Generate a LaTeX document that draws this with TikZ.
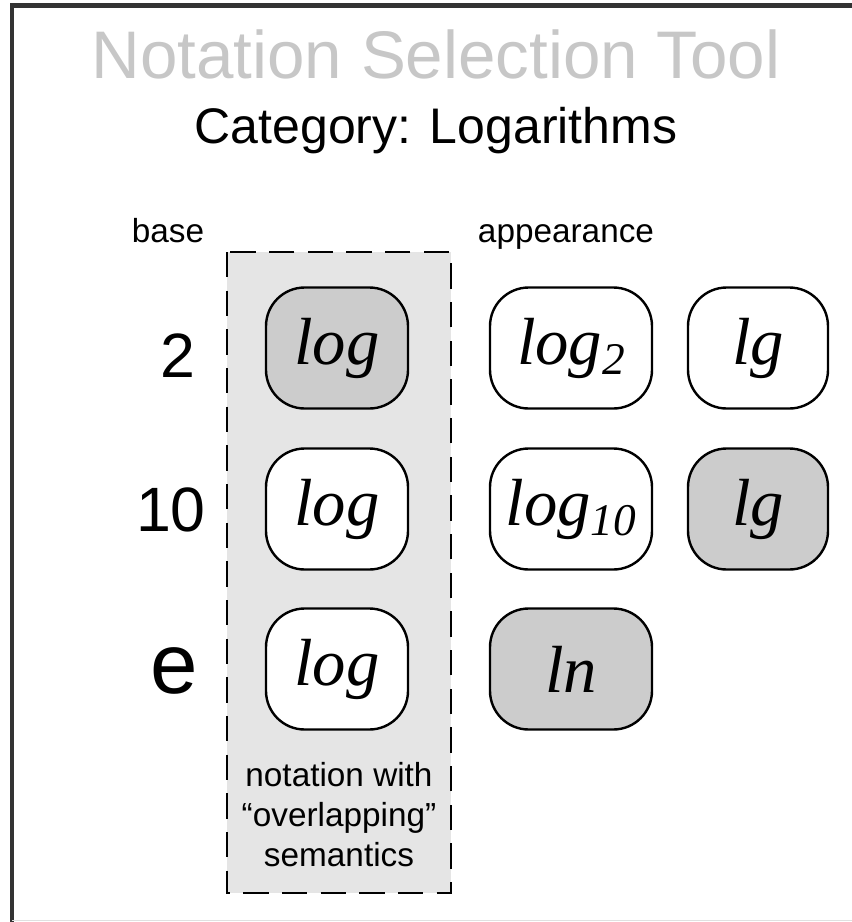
\documentclass[tikz,border=0pt]{standalone}
\usepackage{fontspec}
\setmainfont{Liberation Sans}
\newfontfamily\symfont{Liberation Serif}
\begin{document}
\begin{tikzpicture}[x=7.5pt,y=-7.5pt,
  sym/.style={draw,line width=1.8pt,rounded corners=29pt,minimum height=90.75pt,
    inner sep=0pt,font=\symfont\itshape\fontsize{50}{50}\selectfont},
  shaded/.style={fill=black!20},
  headtext/.style={anchor=base,inner sep=0pt,font=\fontsize{25}{30}\selectfont},
  rowlabel/.style={anchor=east,inner sep=0pt,font=\fontsize{47}{50}\selectfont}]
  \useasboundingbox (0,0) rectangle (85.2,92.2);
  % frame
  \draw[black!80,line width=3.5pt] (1.2,92.2) -- (1.2,0.55) -- (85.2,0.55);
  \draw[black!12,line width=0.75pt] (1.2,92.05) -- (85.2,92.05);
  % titles
  \node[anchor=base,inner sep=0pt,text=black!22,font=\fontsize{50.5}{55}\selectfont] (title) at (43.6,7.8) {Notation Selection Tool};
  \node[anchor=base,inner sep=0pt,font=\fontsize{37.5}{40}\selectfont] (category) at (43.6,14.3) {Category: Logarithms};
  \node[headtext] (base) at (16.8,24.2) {base};
  \node[headtext] (appearance) at (56.6,24.2) {appearance};
  % column with overlapping semantics
  \draw[line width=2pt,dash pattern=on 19pt off 10pt,fill=black!10] (22.7,25.2) rectangle (45.1,89.3);
  \node[align=center,inner sep=0pt,font=\fontsize{25}{30}\selectfont] (note) at (33.9,81.5) {notation with\\“overlapping”\\semantics};
  % bases
  \node[rowlabel] (r2) at (19.6,35.6) {2};
  \node[rowlabel] (r10) at (20.6,51.0) {10};
  \node[rowlabel,font=\fontsize{64}{64}\selectfont] (re) at (19.8,67.1) {e};
  % notations
  \node[sym,shaded,minimum width=106.5pt] (gen2) at (33.7,34.8) {log};
  \node[sym,fill=white,minimum width=106.5pt] (gen10) at (33.7,50.9) {log};
  \node[sym,fill=white,minimum width=106.5pt] (gene) at (33.7,66.9) {log};
  \node[sym,fill=white,minimum width=121.5pt] (sub2) at (57.1,34.8) {log\raisebox{-7.5pt}{\fontsize{34}{34}\selectfont 2}};
  \node[sym,fill=white,minimum width=121.5pt] (sub10) at (57.1,50.9) {log\raisebox{-7.5pt}{\fontsize{34}{34}\selectfont 10}};
  \node[sym,shaded,minimum width=121.5pt] (ln) at (57.1,66.9) {ln};
  \node[sym,fill=white,minimum width=105pt] (lg2) at (75.8,34.8) {lg};
  \node[sym,shaded,minimum width=105pt] (lg10) at (75.8,50.9) {lg};
\end{tikzpicture}
\end{document}
